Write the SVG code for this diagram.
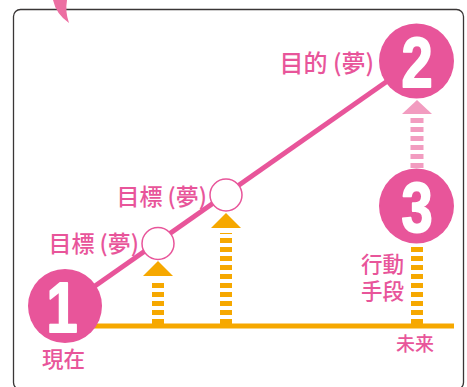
<svg xmlns="http://www.w3.org/2000/svg" width="467" height="387" viewBox="0 0 467 387">
<style>
.lbl{font-family:"Noto Sans CJK JP","Noto Sans CJK SC",sans-serif;font-weight:500;fill:#e8559a}
.num{font-family:"Liberation Sans",Arial,sans-serif;font-weight:bold;fill:#fff;stroke:#fff;stroke-width:2;stroke-linejoin:round;text-anchor:middle}
.big{fill:#e8559a}
.small{fill:#fff;stroke:#e8559a;stroke-width:1.5}
.od{stroke:#f6a800;stroke-width:12;stroke-dasharray:5 4;fill:none}
.pd{stroke:#f29cc0;stroke-width:13;stroke-dasharray:5 4;fill:none}
</style>
<rect x="0" y="0" width="467" height="387" fill="#fff"/>
<rect x="13.5" y="9.5" width="450" height="380" rx="7" fill="none" stroke="#3a3636" stroke-width="1.3"/>
<path d="M53,0 Q56,14 69,23 Q65,12 67,0 Z" fill="#ec6fa2"/>
<g id="connectors">
<line x1="65" y1="307" x2="416" y2="61" stroke="#e8559a" stroke-width="5"/>
<line x1="65" y1="326" x2="454" y2="326" stroke="#f6a800" stroke-width="5"/>
<line class="od" x1="158" y1="324" x2="158" y2="281"/>
<polygon points="143,276 173,276 158,261" fill="#f6a800"/>
<line class="od" x1="226" y1="324" x2="226" y2="233"/>
<polygon points="211,228 241,228 226,213" fill="#f6a800"/>
<line class="od" x1="417" y1="324" x2="417" y2="243"/>
<line class="pd" x1="417" y1="168" x2="417" y2="118"/>
<polygon points="402,114 432,114 417,100" fill="#f29cc0"/>
</g>
<g id="node1">
<circle class="big" cx="65" cy="306" r="37"/>
<text class="num" x="0" y="0" font-size="70" transform="translate(62,332) scale(0.8,1)">1</text>
<text class="lbl" x="42" y="366.5" font-size="21.5">現在</text>
</g>
<g id="node2">
<circle class="big" cx="416.5" cy="61" r="37.5"/>
<text class="num" x="0" y="0" font-size="70" transform="translate(417,87) scale(0.8,1)">2</text>
<text class="lbl" x="374" y="72" font-size="24" text-anchor="end">目的 (夢)</text>
</g>
<g id="node3">
<circle class="big" cx="416.5" cy="206" r="37.5"/>
<text class="num" x="0" y="0" font-size="70" transform="translate(417,232) scale(0.8,1)">3</text>
<text class="lbl" x="404" y="272" font-size="21.5" text-anchor="end">行動</text>
<text class="lbl" x="404" y="299" font-size="21.5" text-anchor="end">手段</text>
</g>
<g id="goalA">
<circle class="small" cx="158" cy="243.5" r="16"/>
<text class="lbl" x="139" y="252" font-size="23" text-anchor="end">目標 (夢)</text>
</g>
<g id="goalB">
<circle class="small" cx="226" cy="195" r="16"/>
<text class="lbl" x="207" y="205" font-size="23" text-anchor="end">目標 (夢)</text>
</g>
<g id="future">
<text class="lbl" x="396" y="350.5" font-size="19">未来</text>
</g>
</svg>
